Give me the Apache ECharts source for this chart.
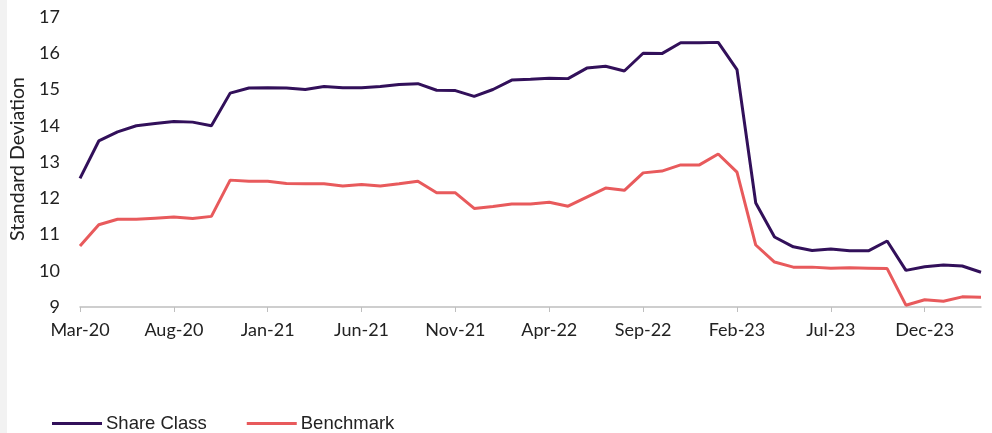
<!DOCTYPE html>
<html>
<head>
<meta charset="utf-8">
<script src="https://cdn.jsdelivr.net/npm/echarts@6/dist/echarts.min.js"></script>
<style>
  html, body { margin: 0; padding: 0; background: #fff; }
  #strip { position: absolute; left: 0; top: 0; width: 7px; height: 433px; background: #f2f2f2; }
  #chart { width: 992px; height: 433px; }
</style>
</head>
<body>
<div id="strip"></div>
<div id="chart"></div>
<script>
// monthly, Mar-20 .. Mar-24
const monthNames = ["Jan","Feb","Mar","Apr","May","Jun","Jul","Aug","Sep","Oct","Nov","Dec"];
const months = [];
for (let i = 0; i < 49; i++) {
  const m = (2 + i) % 12;
  const y = 20 + Math.floor((2 + i) / 12);
  months.push(monthNames[m] + "-" + y);
}

const shareClass = [
  12.55, 13.58, 13.83, 14.00, 14.06, 14.12, 14.10, 14.00, 14.90, 15.04,
  15.05, 15.04, 15.00, 15.08, 15.05, 15.05, 15.08, 15.14, 15.16, 14.98,
  14.97, 14.81, 15.00, 15.26, 15.28, 15.31, 15.30, 15.59, 15.64, 15.51,
  16.00, 15.99, 16.29, 16.29, 16.30, 15.55, 11.87, 10.93, 10.66, 10.56,
  10.60, 10.55, 10.55, 10.82, 10.01, 10.11, 10.16, 10.13, 9.96
];

const benchmark = [
  10.68, 11.27, 11.42, 11.42, 11.45, 11.48, 11.44, 11.50, 12.50, 12.47,
  12.47, 12.41, 12.40, 12.40, 12.34, 12.38, 12.34, 12.40, 12.47, 12.15,
  12.15, 11.72, 11.77, 11.84, 11.84, 11.89, 11.78, 12.03, 12.28, 12.22,
  12.70, 12.75, 12.92, 12.92, 13.22, 12.72, 10.71, 10.24, 10.10, 10.10,
  10.07, 10.08, 10.07, 10.06, 9.05, 9.20, 9.16, 9.28, 9.27
];

const chart = echarts.init(document.getElementById("chart"));
const axisFont = "Lato, 'Open Sans', sans-serif";

chart.setOption({
  animation: false,
  backgroundColor: "transparent",
  grid: { left: 80, right: 11, top: 17, bottom: 126, containLabel: false },
  legend: {
    left: 52,
    top: 414,
    padding: 0,
    itemWidth: 50,
    itemHeight: 3,
    itemGap: 40,
    icon: "rect",
    textStyle: { color: "#222", fontSize: 18.5, fontFamily: "'Liberation Sans', Arial, sans-serif", padding: [0, 0, 0, -1] },
    data: ["Share Class", "Benchmark"]
  },
  xAxis: {
    type: "category",
    data: months,
    boundaryGap: false,
    axisLine: { lineStyle: { color: "#bfbfbf", width: 1.5 } },
    axisTick: { show: true, interval: 4, length: 5, inside: false, lineStyle: { color: "#bfbfbf" } },
    axisLabel: { interval: 4, color: "#222", fontSize: 18, fontFamily: axisFont, margin: 14 },
    splitLine: { show: false }
  },
  yAxis: {
    type: "value",
    min: 9,
    max: 17,
    interval: 1,
    name: "Standard Deviation",
    nameLocation: "middle",
    nameGap: 52,
    nameRotate: 90,
    nameTextStyle: { color: "#222", fontSize: 19.5, fontFamily: axisFont, padding: [0, 0, 0, 6] },
    axisLine: { show: false },
    axisTick: { show: false },
    axisLabel: { color: "#222", fontSize: 18, fontFamily: axisFont, margin: 20 },
    splitLine: { show: false }
  },
  series: [
    {
      name: "Share Class",
      type: "line",
      data: shareClass,
      symbol: "none",
      lineStyle: { color: "#32105a", width: 3 },
      itemStyle: { color: "#32105a" }
    },
    {
      name: "Benchmark",
      type: "line",
      data: benchmark,
      symbol: "none",
      lineStyle: { color: "#e85a5c", width: 3 },
      itemStyle: { color: "#e85a5c" }
    }
  ]
});
</script>
</body>
</html>
